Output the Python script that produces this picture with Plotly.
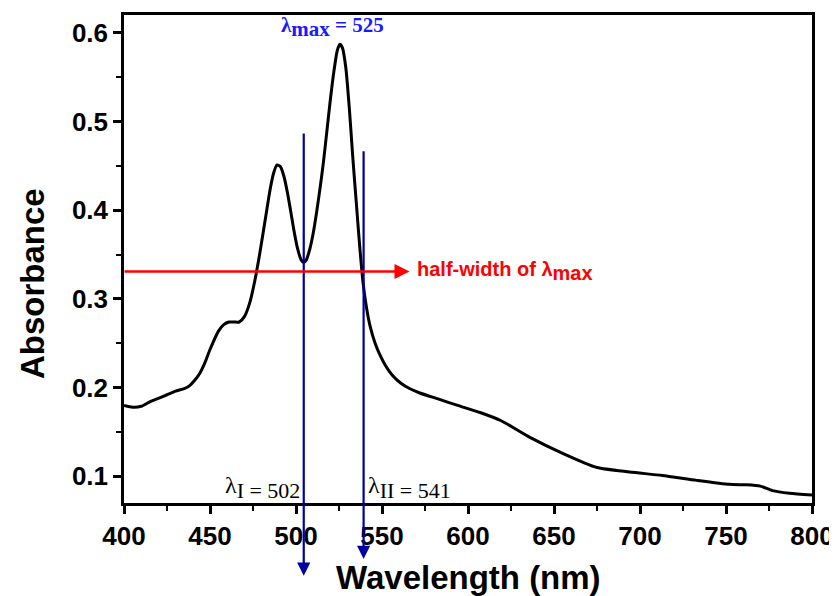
import plotly.graph_objects as go

wavelength = [400, 405, 410, 415, 420, 425, 430, 435, 438, 441, 444, 447, 450, 455, 458, 461, 464, 467,
              470, 473, 476, 479, 482, 485, 487, 489, 491, 493, 495, 497, 499, 501, 503, 504.5,
              506, 508, 510, 512, 514, 516, 518, 520, 522, 524, 525.5, 527, 529, 531, 533, 535,
              537, 539, 541, 543, 546, 549, 552, 556, 561, 566, 572, 583, 594, 607, 619, 636, 655, 675,
              694, 713, 733, 752, 762, 770, 777, 787, 800]
absorbance = [0.180, 0.178, 0.179, 0.184, 0.188, 0.192, 0.196, 0.199, 0.202, 0.208, 0.216, 0.228, 0.243, 0.264,
              0.271, 0.274, 0.274, 0.274, 0.280, 0.295, 0.320, 0.352, 0.388, 0.424, 0.442, 0.451,
              0.449, 0.438, 0.420, 0.398, 0.375, 0.356, 0.344, 0.341, 0.344, 0.356, 0.374, 0.398,
              0.425, 0.455, 0.490, 0.525, 0.556, 0.580, 0.587, 0.583, 0.560, 0.515, 0.460, 0.410,
              0.360, 0.318, 0.290, 0.270, 0.250, 0.236, 0.225, 0.214, 0.205, 0.199, 0.194, 0.187, 0.180, 0.172,
              0.163, 0.144, 0.126, 0.110, 0.105, 0.101, 0.0955, 0.091, 0.0905, 0.089, 0.084, 0.081, 0.079]

x_ticks = [400, 450, 500, 550, 600, 650, 700, 750, 800]
y_ticks = [0.1, 0.2, 0.3, 0.4, 0.5, 0.6]

lambda_I = 502
lambda_II = 541
lambda_max = 525
half_height = 0.331

fig = go.Figure()
fig.add_trace(go.Scatter(x=wavelength, y=absorbance, mode="lines",
                         line=dict(color="black", width=3, shape="spline", smoothing=0.6),
                         showlegend=False, hoverinfo="skip"))

blue = "#00009f"
arrow_common = dict(xref="x", yref="y", axref="x", ayref="y", showarrow=True, arrowhead=2,
                    text="", font=dict(size=1), borderpad=0, standoff=0, startstandoff=0)
# vertical arrows
fig.add_annotation(x=504.5, y=-0.012, ax=504.5, ay=0.487, arrowsize=1.2, arrowwidth=2.2,
                   arrowcolor=blue, **arrow_common)
fig.add_annotation(x=539.3, y=0.007, ax=539.3, ay=0.467, arrowsize=1.2, arrowwidth=2.2,
                   arrowcolor=blue, **arrow_common)
# horizontal red arrow
fig.add_annotation(x=566, y=half_height, ax=400, ay=half_height, arrowsize=1.2, arrowwidth=2.5,
                   arrowcolor="red", **arrow_common)

fig.add_annotation(x=569, y=half_height, xref="x", yref="y", xanchor="left", yanchor="middle", showarrow=False,
                   text="<b>half-width of λ<sub><span style='font-size:20px'>max</span></sub></b>",
                   font=dict(family="Arial, Liberation Sans", size=20, color="red"))

fig.add_annotation(x=521, y=0.607, xref="x", yref="y", xanchor="center", yanchor="middle", showarrow=False,
                   text=f"<b>λ<sub><span style='font-size:21px'>max</span></sub> = {lambda_max}</b>",
                   font=dict(family="Liberation Serif, Times New Roman", size=21, color="#1a1aff"))

fig.add_annotation(x=480.8, y=0.088, xref="x", yref="y", xanchor="center", yanchor="middle", showarrow=False,
                   text=f"λ<sub><span style='font-size:22px'>I = {lambda_I}</span></sub>",
                   font=dict(family="Liberation Serif, Times New Roman", size=24, color="black"))
fig.add_annotation(x=566, y=0.088, xref="x", yref="y", xanchor="center", yanchor="middle", showarrow=False,
                   text=f"λ<sub><span style='font-size:22px'>II = {lambda_II}</span></sub>",
                   font=dict(family="Liberation Serif, Times New Roman", size=24, color="black"))

# axis titles
fig.add_annotation(x=-0.132, y=0.449, xref="paper", yref="paper", textangle=-90, showarrow=False,
                   xanchor="center", yanchor="middle",
                   text="<b>Absorbance</b>", font=dict(family="Arial, Liberation Sans", size=33, color="black"))
fig.add_annotation(x=0.5, y=-0.152, xref="paper", yref="paper", showarrow=False, xanchor="center", yanchor="middle",
                   text="<b>Wavelength (nm)</b>", font=dict(family="Arial, Liberation Sans", size=33, color="black"))

axis_common = dict(showline=True, linewidth=2.5, linecolor="black", mirror=True, showgrid=False,
                   zeroline=False, ticks="outside", ticklen=8, tickwidth=2.5, tickcolor="black",
                   automargin=False,
                   tickfont=dict(family="Arial, Liberation Sans", size=26, color="black"))

fig.update_xaxes(range=[400, 800], tickvals=x_ticks, ticktext=[f"<b>{v}</b>" for v in x_ticks],
                 minor=dict(ticks="outside", ticklen=5, tickwidth=2, tickcolor="black", dtick=25, tick0=400),
                 **axis_common)
fig.update_yaxes(range=[0.07, 0.62], tickvals=y_ticks, ticktext=[f"<b>{v}</b>" for v in y_ticks],
                 minor=dict(ticks="outside", ticklen=5, tickwidth=2, tickcolor="black", dtick=0.05, tick0=0),
                 **axis_common)

# the page body adds an 8px offset, so the figure is 8px smaller and the left/top margins 8px less
fig.update_layout(width=829, height=588, margin=dict(l=116, r=25, t=7, b=93),
                  plot_bgcolor="white", paper_bgcolor="white")

fig.write_html("out.html")
